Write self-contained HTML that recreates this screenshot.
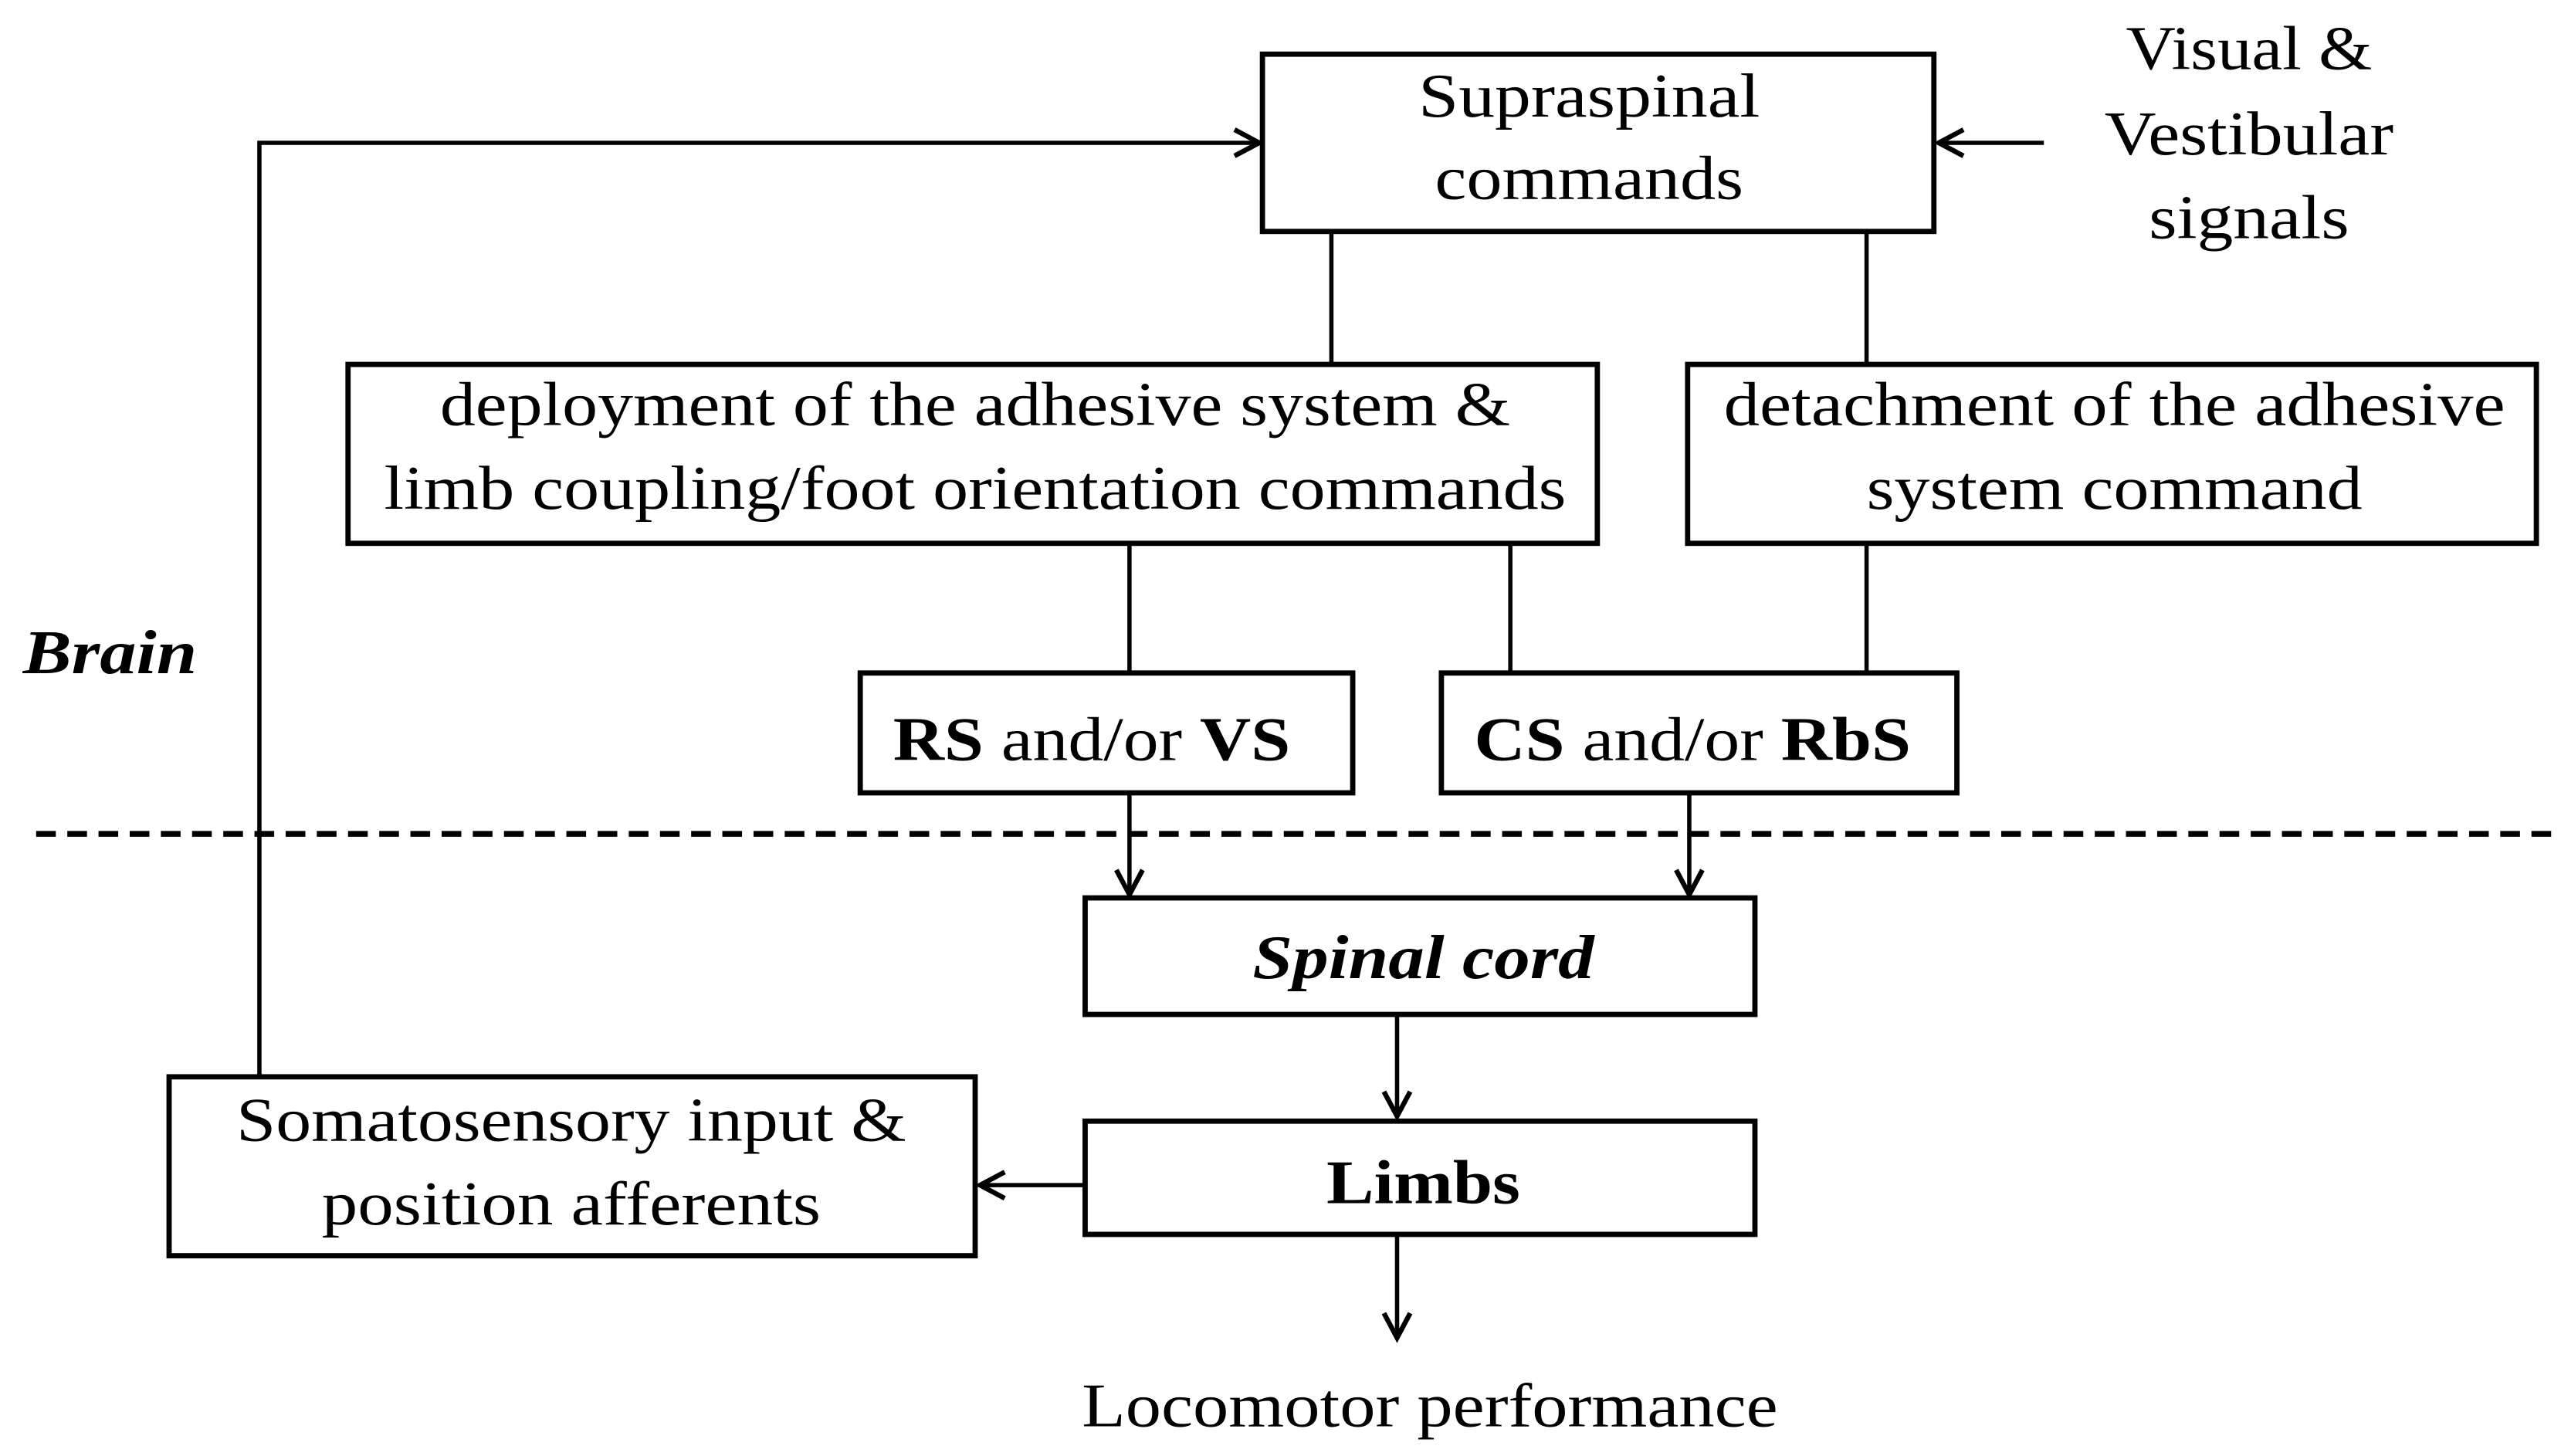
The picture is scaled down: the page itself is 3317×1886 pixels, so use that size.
<!DOCTYPE html>
<html><head><meta charset="utf-8"><style>
html,body{margin:0;padding:0;background:#fff;}
svg{display:block;}
text{font-family:"Liberation Serif",serif;fill:#000;}
</style></head><body>
<svg width="3317" height="1886" viewBox="0 0 1560 887" preserveAspectRatio="none" xmlns="http://www.w3.org/2000/svg">
<defs>
<marker id="a" markerWidth="20" markerHeight="20" refX="17" refY="10" orient="auto" markerUnits="userSpaceOnUse">
<path d="M2,2 L17,10 L2,18" fill="none" stroke="#000" stroke-width="3"/>
</marker>
</defs>
<g fill="none" stroke="#000" stroke-width="3.2">
<rect x="769" y="33" width="409" height="108"/>
<rect x="212" y="222" width="761" height="109"/>
<rect x="1028" y="222" width="517" height="109"/>
<rect x="524" y="410" width="300" height="73"/>
<rect x="878" y="410" width="314" height="73"/>
<rect x="661" y="547" width="408" height="71"/>
<rect x="661" y="683" width="408" height="69"/>
<rect x="103" y="656" width="491" height="109"/>
</g>
<g stroke="#000" stroke-width="2.6" fill="none">
<line x1="811" y1="141" x2="811" y2="222"/>
<line x1="1137" y1="141" x2="1137" y2="222"/>
<line x1="688" y1="331" x2="688" y2="410"/>
<line x1="920" y1="331" x2="920" y2="410"/>
<line x1="1137" y1="331" x2="1137" y2="410"/>
<line x1="688" y1="483" x2="688" y2="545" marker-end="url(#a)"/>
<line x1="1029" y1="483" x2="1029" y2="545" marker-end="url(#a)"/>
<line x1="851" y1="618" x2="851" y2="680" marker-end="url(#a)"/>
<line x1="851" y1="752" x2="851" y2="815" marker-end="url(#a)"/>
<line x1="660" y1="722" x2="597" y2="722" marker-end="url(#a)"/>
<line x1="1245" y1="87" x2="1181" y2="87" marker-end="url(#a)"/>
<polyline points="158,656 158,87 767,87" marker-end="url(#a)"/>
<line x1="22" y1="508" x2="1560" y2="508" stroke-width="3.5" stroke-dasharray="12,7"/>
</g>
<g font-size="38" text-anchor="middle">
<text x="968" y="71" textLength="208" lengthAdjust="spacingAndGlyphs">Supraspinal</text>
<text x="968" y="121" textLength="188" lengthAdjust="spacingAndGlyphs">commands</text>
<text x="1370" y="42" textLength="150" lengthAdjust="spacingAndGlyphs">Visual &amp;</text>
<text x="1370" y="94" textLength="176" lengthAdjust="spacingAndGlyphs">Vestibular</text>
<text x="1370" y="145" textLength="122" lengthAdjust="spacingAndGlyphs">signals</text>
<text x="594" y="259" textLength="652" lengthAdjust="spacingAndGlyphs">deployment of the adhesive system &amp;</text>
<text x="594" y="310" textLength="720" lengthAdjust="spacingAndGlyphs">limb coupling/foot  orientation commands</text>
<text x="1288" y="259" textLength="476" lengthAdjust="spacingAndGlyphs">detachment of the adhesive</text>
<text x="1288" y="310" textLength="302" lengthAdjust="spacingAndGlyphs">system command</text>
<text x="665" y="463" textLength="242" lengthAdjust="spacingAndGlyphs"><tspan font-weight="bold">RS</tspan> and/or <tspan font-weight="bold">VS</tspan></text>
<text x="1031" y="463" textLength="266" lengthAdjust="spacingAndGlyphs"><tspan font-weight="bold">CS</tspan> and/or <tspan font-weight="bold">RbS</tspan></text>
<text x="867" y="596" font-weight="bold" font-style="italic" textLength="208" lengthAdjust="spacingAndGlyphs">Spinal cord</text>
<text x="867" y="733" font-weight="bold" textLength="118" lengthAdjust="spacingAndGlyphs">Limbs</text>
<text x="348" y="695" textLength="408" lengthAdjust="spacingAndGlyphs">Somatosensory input &amp;</text>
<text x="348" y="746" textLength="304" lengthAdjust="spacingAndGlyphs">position afferents</text>
<text x="871" y="869" textLength="424" lengthAdjust="spacingAndGlyphs">Locomotor performance</text>
</g>
<text x="14" y="410" font-size="38" font-weight="bold" font-style="italic" textLength="106" lengthAdjust="spacingAndGlyphs">Brain</text>
</svg>
</body></html>
